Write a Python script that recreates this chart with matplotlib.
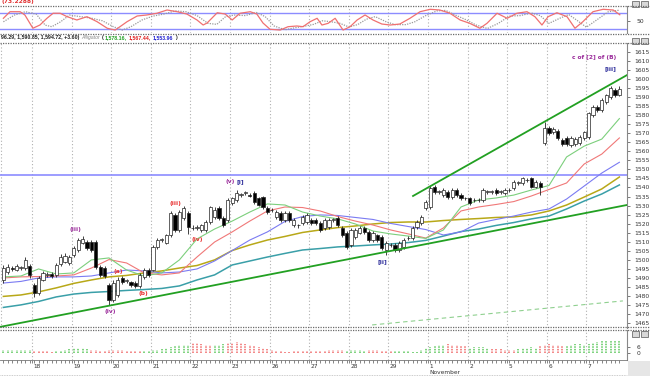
import numpy as np
import matplotlib.pyplot as plt
from matplotlib.lines import Line2D
from matplotlib.patches import Rectangle

W, H = 650, 376
fig = plt.figure(figsize=(W / 100, H / 100), dpi=100)
fig.patch.set_facecolor('white')

# ---- hourly bars (price) ----
opens = [1489, 1493, 1495.5, 1494.5, 1495.5, 1495.5, 1496.5, 1486, 1481.5, 1489,
         1491.5, 1492, 1491.5, 1497.5, 1499, 1498, 1502.5, 1505.5, 1509.5, 1510,
         1510, 1510, 1496, 1495.5, 1486, 1477.5, 1480.5, 1490, 1488, 1487.5,
         1487, 1485.5, 1490.5, 1494.5, 1494.5, 1507, 1511, 1509.5, 1513.5, 1525,
         1516.5, 1523, 1526, 1517.5, 1517.5, 1516.5, 1516.5, 1521, 1523.5, 1528.5,
         1523, 1522, 1531.5, 1533, 1536, 1537, 1536, 1537, 1534, 1534.5,
         1528.5, 1527.5, 1523.5, 1526, 1522, 1526, 1519, 1519, 1520.5, 1521,
         1522, 1522, 1520.5, 1517.5, 1518, 1522, 1523, 1517.5, 1515, 1508,
         1512.5, 1515, 1517.5, 1515.5, 1511, 1513.5, 1512.5, 1505.5, 1508, 1508,
         1505.5, 1507, 1512, 1512, 1518, 1520.5, 1528.5, 1529, 1540.5, 1537.5,
         1536, 1537.5, 1534.5, 1538.5, 1536, 1534, 1534, 1533, 1533, 1533,
         1537.5, 1537.5, 1538.5, 1537.5, 1537, 1538.5, 1539.5, 1542.5, 1542.5, 1544,
         1545, 1540.5, 1542.5, 1564.5, 1573, 1570.5, 1571.5, 1566.5, 1567.5, 1563.5,
         1564, 1564.5, 1567.5, 1568, 1580, 1584.5, 1583, 1587.5, 1590, 1594,
         1591]
closes = [1495.5, 1496, 1495, 1496.5, 1495.5, 1500, 1491.5, 1481.5, 1490, 1492.5,
          1492, 1491, 1497, 1501.5, 1502, 1501.5, 1506.5, 1511, 1511.5, 1506.5,
          1505.5, 1496, 1491.5, 1491, 1477.5, 1487, 1489, 1487.5, 1488.5, 1486,
          1485.5, 1491.5, 1494.5, 1491.5, 1507, 1511, 1511, 1513.5, 1526, 1516.5,
          1526.5, 1528.5, 1518, 1517.5, 1518, 1519, 1521, 1529, 1527.5, 1523,
          1519, 1533, 1534, 1537, 1536, 1537, 1535.5, 1532, 1530.5, 1529,
          1526.5, 1527.5, 1526.5, 1522, 1526, 1522, 1522, 1519, 1523.5, 1525,
          1520.5, 1520.5, 1516.5, 1522, 1522, 1522, 1519, 1513.5, 1507, 1516.5,
          1516.5, 1517.5, 1515.5, 1511, 1515, 1511, 1506.5, 1509.5, 1508, 1505.5,
          1509.5, 1511, 1512, 1517.5, 1521, 1523.5, 1532, 1539.5, 1537.5, 1537.5,
          1538.5, 1534.5, 1538.5, 1536, 1534, 1534, 1531.5, 1533, 1533, 1538.5,
          1537.5, 1537.5, 1537, 1537.5, 1538.5, 1538.5, 1543, 1542.5, 1545, 1544,
          1540.5, 1543, 1540.5, 1573, 1570, 1572.5, 1567.5, 1564, 1564, 1567.5,
          1567, 1568, 1570.5, 1581, 1584.5, 1583, 1588.5, 1591, 1595, 1591.1,
          1594.72]
highs = [1497, 1497.5, 1496.5, 1497.5, 1496.5, 1501.5, 1497.5, 1487, 1491, 1494,
         1493, 1493, 1498, 1503, 1503.5, 1502.5, 1507.5, 1512, 1513, 1511,
         1511, 1511, 1497, 1496.5, 1487, 1489, 1490.5, 1491, 1489.5, 1488.5,
         1488, 1492.5, 1495.5, 1495.5, 1508, 1512, 1512, 1514.5, 1527, 1526,
         1527.5, 1530, 1527, 1519, 1519, 1520, 1522, 1530, 1529, 1529.5,
         1524, 1534, 1535, 1538.5, 1537, 1538, 1537, 1538, 1535, 1535.5,
         1529.5, 1528.5, 1527.5, 1527, 1527, 1527, 1523, 1520, 1524.5, 1526,
         1523, 1523, 1521.5, 1523, 1523, 1523, 1524, 1518.5, 1516, 1517.5,
         1517.5, 1518.5, 1518.5, 1516.5, 1516, 1514.5, 1513.5, 1510.5, 1509, 1509,
         1510.5, 1512, 1513, 1518.5, 1522, 1524.5, 1533, 1541, 1541.5, 1538.5,
         1539.5, 1538.5, 1539.5, 1539.5, 1537, 1535, 1535, 1534, 1534, 1539.5,
         1538.5, 1538.5, 1539.5, 1538.5, 1539.5, 1539.5, 1544, 1543.5, 1546, 1545,
         1546, 1544, 1543.5, 1576.5, 1574, 1573.5, 1572.5, 1567.5, 1568.5, 1568.5,
         1568, 1569, 1571.5, 1582, 1585.5, 1585.5, 1589.5, 1592, 1596, 1595,
         1596.29]
lows = [1487, 1492, 1494, 1493.5, 1494.5, 1494.5, 1490, 1479.5, 1480.5, 1488,
        1490.5, 1490, 1490.5, 1496.5, 1498, 1497, 1501.5, 1504.5, 1508.5, 1505.5,
        1504.5, 1495, 1490.5, 1490, 1475, 1476.5, 1479.5, 1486.5, 1487, 1485,
        1484.5, 1484.5, 1489.5, 1490.5, 1493.5, 1506, 1510, 1508.5, 1512.5, 1515.5,
        1515.5, 1522, 1514, 1516.5, 1516.5, 1515.5, 1515.5, 1520, 1522.5, 1522,
        1518, 1521, 1530.5, 1532, 1535, 1536, 1534.5, 1531, 1529.5, 1528,
        1525.5, 1526.5, 1522.5, 1521, 1521, 1521, 1518, 1517.5, 1519.5, 1520,
        1519.5, 1519.5, 1515.5, 1516.5, 1517, 1521, 1518, 1512.5, 1506, 1507,
        1511.5, 1514, 1514.5, 1510, 1510, 1510, 1505.5, 1502.5, 1507, 1504.5,
        1504.5, 1506, 1511, 1511, 1517, 1519.5, 1527.5, 1528, 1536.5, 1536.5,
        1535, 1533.5, 1533.5, 1535, 1533, 1533, 1530.5, 1532, 1532, 1532,
        1536.5, 1536.5, 1536, 1536.5, 1536, 1537.5, 1538.5, 1541.5, 1541.5, 1543,
        1539.5, 1539.5, 1535.8, 1563.5, 1569, 1569.5, 1566.5, 1563, 1563, 1562.5,
        1563, 1563.5, 1566.5, 1567, 1579, 1582, 1582, 1586.5, 1589, 1590,
        1590.85]

# ---- moving averages, read every 4 bars ----
ma_green = [1490.5, 1491.0, 1494.9, 1492.1, 1492.7, 1499.9, 1501.0, 1494.3, 1491.0, 1492.7,
            1499.9, 1511.5, 1517.0, 1521.4, 1526.4, 1530.9, 1530.3, 1526.4, 1524.2, 1522.6,
            1519.8, 1515.9, 1514.3, 1513.1, 1511.8, 1516.5, 1529.2, 1533.1, 1534.2, 1535.8,
            1538.6, 1541.1, 1556.9, 1562.9, 1566.8, 1578.16]
ma_red = [1489.9, 1490.5, 1490.7, 1491.0, 1491.6, 1495.4, 1500.1, 1498.2, 1492.7, 1491.6,
          1492.7, 1501.5, 1509.8, 1515.4, 1521.4, 1527.0, 1529.2, 1528.9, 1527.0, 1523.9,
          1521.4, 1519.2, 1516.5, 1514.3, 1512.0, 1517.6, 1527.0, 1529.2, 1530.6, 1532.2,
          1535.3, 1538.9, 1542.5, 1553.0, 1558.5, 1567.44]
ma_blue = [1487.1, 1488.0, 1489.9, 1490.5, 1490.5, 1491.0, 1492.7, 1494.3, 1493.8, 1492.7,
           1493.2, 1494.9, 1499.3, 1505.1, 1510.9, 1515.4, 1521.2, 1523.9, 1524.8, 1524.5,
           1523.4, 1522.3, 1520.1, 1518.4, 1516.7, 1513.7, 1515.4, 1520.3, 1522.3, 1524.2,
           1526.4, 1528.1, 1533.6, 1540.8, 1548.0, 1553.96]
ma_olive = [1479.7, 1480.5, 1482.2, 1484.4, 1486.9, 1488.8, 1490.5, 1491.3, 1492.7, 1493.8,
            1495.4, 1496.8, 1499.9, 1505.1, 1508.2, 1510.9, 1512.9, 1515.1, 1516.5, 1517.8,
            1518.7, 1519.8, 1520.6, 1520.9, 1520.9, 1521.7, 1522.3, 1522.8, 1523.4, 1523.7,
            1524.8, 1527.0, 1530.3, 1534.7, 1539.2, 1545.8]
ma_teal = [1473.6, 1475.0, 1476.9, 1479.4, 1481.0, 1481.9, 1482.4, 1483.0, 1483.5, 1484.1,
           1485.5, 1488.8, 1491.6, 1497.1, 1499.3, 1501.5, 1503.5, 1505.4, 1506.2, 1507.1,
           1507.6, 1508.2, 1508.7, 1509.5, 1510.7, 1513.1, 1515.6, 1517.0, 1519.0, 1520.6,
           1522.6, 1524.2, 1528.1, 1532.5, 1536.4, 1541.4]

# trend lines (bar index, price)
upper_tl_x, upper_tl_y = [93.1, 141.7], [1535.3, 1602.2]
lower_tl_x, lower_tl_y = [-0.77, 141.7], [1462.8, 1530.3]
base_tl_x, base_tl_y = [83.8, 140.8], [1463.9, 1477.2]
ref_level = 1547.0

# ---- oscillator ----
osc_x = [0, 1.5, 3.8, 4.9, 6.7, 8.3, 9.9, 11.3, 12.9, 14.5, 16.7, 19.0, 21.3, 23.6, 25.4,
         26.5, 28.1, 30.4, 32.6, 34.9, 37.2, 39.5, 41.7, 44.0, 45.4, 46.3, 48.6, 50.4, 52.0,
         53.8, 56.1, 57.6, 59.0, 60.6, 62.9, 64.7, 66.7, 68.1, 69.7, 71.3, 72.4, 73.8, 75.4,
         77.2, 78.8, 80.4, 82.2, 84.0, 86.0, 87.9, 90.1, 92.4, 94.7, 97.0, 99.2, 101.5, 103.8,
         106.0, 108.3, 109.9, 112.2, 114.5, 116.7, 119.0, 120.8, 122.4, 123.8, 125.8, 128.1,
         129.9, 131.7, 134.0, 136.3, 138.6, 140.1]
osc_red = [59.5, 85, 85, 72, 21, 33.5, 59.5, 79, 79, 65.7, 53, 65.7, 46.3, 21, 14,
           27, 46.3, 68.4, 72.3, 79, 91.6, 85, 76, 53, 33.5, 41.3, 81, 76, 53,
           79, 85, 76, 41.3, 17, 14, 27, 29.7, 27, 46.3, 59.5, 33.5, 40, 59.5,
           14, 27, 53, 72.3, 53, 37.4, 33.5, 37.4, 59.5, 85, 94.3, 91.6, 79, 53,
           40, 21, 40, 79, 59.5, 79, 85, 65.7, 33.5, 65.7, 81, 65.7,
           21, 46.3, 85, 94.3, 91.6, 73.2288]
osc2_x = [0, 2.5, 5, 7.5, 9.5, 11, 13, 15, 17.5, 20, 22.5, 25, 27, 29, 31.5, 34, 36.5, 39,
          41.5, 44, 46.5, 48.5, 50.5, 52.5, 55, 57.5, 59.5, 61.5, 64, 66, 68.5, 70.5, 72.5,
          74.5, 76.5, 78.5, 80.5, 82.5, 84.5, 87, 89, 91.5, 93.5, 96, 98.5, 100.5, 103, 105,
          107.5, 110, 112.5, 115, 117.5, 120, 122, 124, 126.5, 128.5, 130.5, 132.5, 135,
          137.5, 140]
osc_gray = [46, 72, 85, 75, 33, 27, 46, 72, 66, 60, 50, 27, 14, 27, 53, 68, 76, 88,
            85, 70, 40, 36, 66, 72, 70, 82, 66, 30, 15, 22, 29, 36, 50,
            46, 40, 26, 35, 56, 66, 46, 35, 35, 46, 70, 88, 90, 70, 55,
            33, 20, 40, 68, 70, 80, 70, 40, 60, 74, 50, 25, 55,
            85, 91]

# ---- histogram panel ----
vol = [3, 3, 3, 3, 3, 3, 3, 2, 2, 2, 2, 1, 2, 2, 3, 4, 5, 5, 5, 4,
       3, 3, 2, 2, 3, 3, 3, 3, 2, 2, 2, 2, 2, 2, 3, 3, 4, 5, 6, 7,
       8, 8, 8, 10, 10, 9, 8, 8, 8, 8, 9, 10, 10, 11, 10, 9, 8, 7, 6, 5,
       4, 3, 2, 2, 1, 1, 2, 2, 2, 2, 2, 2, 2, 2, 3, 3, 3, 3, 2, 3,
       3, 3, 2, 3, 3, 3, 2, 2, 2, 2, 2, 2, 2, 1, 1, 3, 5, 6, 7, 8,
       8, 9, 8, 8, 7, 7, 5, 6, 6, 6, 5, 4, 4, 4, 3, 3, 3, 4, 5, 5,
       6, 5, 7, 8, 9, 8, 8, 7, 7, 8, 9, 9, 8, 9, 10, 11, 12, 12, 13, 13,
       13]
vol_up = [1] * 7 + [0] * 5 + [1] * 8 + [0] * 12 + [1] * 11 + [0] * 5 + [1] * 3 + [0] * 27 \
    + [1] * 5 + [0] * 6 + [1] * 12 + [0] * 5 + [1] * 5 + [0] * 6 + [1] * 5 + [0] * 6 + [1] * 13

day_labels = ['18', '19', '20', '21', '22', '23', '26', '27', '28', '29', '1', '2', '5', '6', '7']
month_label = 'November'

# legend strip pieces: text, colour
legend_parts = [('96.29, 1,590.85, 1,594.72, +3.60)', '#222222'),
                ('Alligator', '#8a8a8a'),
                ('(', '#222222'),
                ('1,578.16,', '#22a022'),
                ('1,567.44,', '#e02020'),
                ('1,553.96', '#2020d0'),
                (')', '#222222')]

# ---------------------------------------------------------------
XL = (-0.77, 141.73)


def px_axes(x0, y0, x1, y1):
    return fig.add_axes([x0 / W, 1 - y1 / H, (x1 - x0) / W, (y1 - y0) / H])


def ftext(x, y, s, **kw):
    return fig.text(x / W, 1 - y / H, s, **kw)


def hline(y, x0=0, x1=627, **kw):
    fig.add_artist(Line2D([x0 / W, x1 / W], [1 - y / H, 1 - y / H],
                          transform=fig.transFigure, **kw))


grid_pos = np.arange(6.5, 141, 9)
grid_kw = dict(color='#b0b0b0', lw=0.8, ls=(0, (1, 2)), zorder=0)

# main price panel
ax = px_axes(0, 43, 627, 328)
ax.set_xlim(*XL)
ax.set_ylim(1462.2, 1620.0)
for g in grid_pos:
    ax.axvline(g, **grid_kw)
ax.axvline(-0.5, **grid_kw)

idx = np.arange(len(opens))
o, hi, lo, c = (np.array(v) for v in (opens, highs, lows, closes))
up = c >= o
ax.vlines(idx, lo, hi, color='#222222', lw=0.6, zorder=4)
body = np.maximum(np.abs(c - o), 0.3)
ax.bar(idx, body, bottom=np.minimum(o, c), width=0.72,
       color=np.where(up, 'white', 'black'), edgecolor='#222222', lw=0.5, zorder=5)

ma_idx = np.arange(0, 141, 4)
ax.plot(ma_idx, ma_teal, color='#3a9fa8', lw=1.1, zorder=3)
ax.plot(ma_idx, ma_olive, color='#b8a818', lw=1.1, zorder=3)
ax.plot(ma_idx, ma_blue, color='#7b7bf2', lw=0.8, zorder=3)
ax.plot(ma_idx, ma_red, color='#f07878', lw=0.8, zorder=3)
ax.plot(ma_idx, ma_green, color='#7ccf7c', lw=0.8, zorder=3)

ax.axhline(ref_level, color='#8c8cff', lw=1.2, zorder=2)
ax.plot(upper_tl_x, upper_tl_y, color='#22a022', lw=1.3, zorder=6)
ax.plot(lower_tl_x, lower_tl_y, color='#22a022', lw=1.3, zorder=6)
ax.plot(base_tl_x, base_tl_y, color='#8fd08f', lw=0.8, ls=(0, (4, 3)), zorder=2)

ax.yaxis.tick_right()
ax.set_yticks(np.arange(1465, 1616, 5))
ax.tick_params(axis='y', labelsize=4.3, length=2, width=0.5, pad=3,
               colors='#444444', labelcolor='#333333')
ax.set_xticks([])
for s in ('left', 'top', 'bottom'):
    ax.spines[s].set_visible(False)
ax.spines['right'].set_color('#888888')
ax.spines['right'].set_linewidth(0.8)

# wave labels
purple, navy, red = '#9a2a9a', '#2a2a99', '#e83030'
lab_kw = dict(fontsize=4.2, ha='center', va='center', fontweight='bold')
ftext(75, 229, '(iii)', color=purple, **lab_kw)
ftext(110, 312, '(iv)', color=purple, **lab_kw)
ftext(175, 203, '(iii)', color=red, **lab_kw)
ftext(197, 240, '(iv)', color=red, **lab_kw)
ftext(118, 272, '(a)', color=red, **lab_kw)
ftext(143, 293, '(b)', color=red, **lab_kw)
ftext(230, 182, '(v)', color=purple, **lab_kw)
ftext(240, 182, '[i]', color=navy, **lab_kw)
ftext(382, 262, '[ii]', color=navy, **lab_kw)
ftext(594, 58, 'c of [2] of (B)', color=purple, **lab_kw)
ftext(610, 69, '[iii]', color=navy, **lab_kw)

# oscillator panel
osc = px_axes(0, 6, 627, 33)
osc.set_xlim(*XL)
osc.set_ylim(2.6, 107.1)
for g in grid_pos:
    osc.axvline(g, **grid_kw)
osc.axhline(80, color='#8c8cff', lw=1.0)
osc.axhline(20, color='#8c8cff', lw=1.0)
osc.plot(osc2_x, osc_gray, color='#9a9a9a', lw=0.9, ls=(0, (1, 1)))
osc.plot(osc_x, osc_red, color='#f07070', lw=0.9)
osc.yaxis.tick_right()
osc.set_yticks([50])
osc.tick_params(axis='y', labelsize=4.3, length=2, width=0.5, pad=5,
                colors='#444444', labelcolor='#333333')
osc.set_xticks([])
for s in ('left', 'top', 'bottom'):
    osc.spines[s].set_visible(False)
osc.spines['right'].set_color('#888888')
ftext(2, 2, '(73.2288)', color='#e03030', fontsize=4.3, fontweight='bold', va='center')

# legend strip, pieces laid out one after another
renderer = fig.canvas.get_renderer()
xcur = 1.0
for s, col in legend_parts:
    kw = dict(fontsize=3.8, va='center', family='Liberation Sans', color=col)
    if s == 'Alligator':
        kw['style'] = 'italic'
    else:
        kw['fontweight'] = 'bold'
    t = ftext(xcur, 38, s, **kw)
    bb = t.get_window_extent(renderer)
    xcur = bb.x1 + (0.6 if s == '(' else 2.0)

# histogram panel
vax = px_axes(0, 330, 627, 360)
vax.set_xlim(*XL)
vax.set_ylim(-7, 23)
for g in grid_pos:
    vax.axvline(g, **grid_kw)
vcol = np.where(np.array(vol_up) == 1, '#5cc85c', '#f06a6a')
vax.vlines(idx, 0, vol, colors=vcol, lw=1.1, linestyles=(0, (1, 0.7)))
vax.yaxis.tick_right()
vax.set_yticks([0, 6])
vax.tick_params(axis='y', labelsize=4.3, length=2, width=0.5, pad=5,
                colors='#444444', labelcolor='#333333')
vax.set_xticks(grid_pos)
vax.set_xticklabels([])
vax.set_xticks(idx, minor=True)
vax.tick_params(axis='x', which='both', length=2, width=0.5, colors='#555555', direction='out')
for s in ('left', 'top'):
    vax.spines[s].set_visible(False)
vax.spines['right'].set_color('#888888')
vax.spines['bottom'].set_color('#777777')
vax.spines['bottom'].set_linewidth(0.6)

for g, lab in zip(grid_pos, day_labels):
    xp = (g - XL[0]) / (XL[1] - XL[0]) * 627
    ftext(xp + 1.5, 366, lab, color='#333333', fontsize=4.2, va='center')
xm = (grid_pos[10] - XL[0]) / (XL[1] - XL[0]) * 627
ftext(xm + 1.5, 373, month_label, color='#333333', fontsize=4.2, va='center')

# panel separators
sep_kw = dict(color='#6a6a6a', lw=0.9, ls=(0, (1, 1)))
for yy in (5.5, 33.5, 42.5, 327.0, 329.5):
    hline(yy, 0, 650, **sep_kw)
hline(375, 0, 627, color='#bbbbbb', lw=0.6, ls=(0, (1, 1)))

# little window buttons on the right
for yy in (1, 38, 331):
    for xx in (632, 641):
        fig.add_artist(Rectangle((xx / W, 1 - (yy + 6) / H), 7 / W, 6 / H,
                                 transform=fig.transFigure, facecolor='#d8d8d8',
                                 edgecolor='#555555', lw=0.5))
fig.add_artist(Rectangle((628 / W, 0), 22 / W, 15 / H, transform=fig.transFigure,
                         facecolor='#e6e6e6', edgecolor='none', hatch='.....'))

fig.savefig('out.png', dpi=100, facecolor='white')
